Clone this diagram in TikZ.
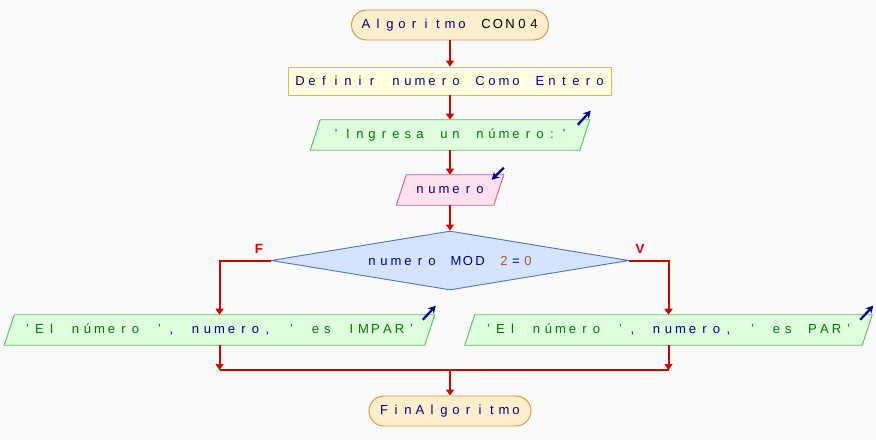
\documentclass[tikz,border=0pt]{standalone}
\usepackage{fontspec}
\setmainfont{Liberation Sans}
\usetikzlibrary{arrows.meta,shapes.geometric,calc,backgrounds}
\ExplSyntaxOn
\NewDocumentCommand\mono{m}{\tl_map_inline:nn {#1} {\makebox[9pt]{##1}}}
\ExplSyntaxOff
\definecolor{bgc}{RGB}{250,250,250}
\definecolor{navy}{RGB}{0,0,128}
\definecolor{strc}{RGB}{0,120,0}
\definecolor{numc}{RGB}{170,85,40}
\definecolor{flowc}{RGB}{204,0,0}
\definecolor{termfill}{RGB}{255,238,204}
\definecolor{termdraw}{RGB}{204,150,70}
\definecolor{deffill}{RGB}{255,255,221}
\definecolor{defdraw}{RGB}{200,200,70}
\definecolor{outfill}{RGB}{221,255,221}
\definecolor{outdraw}{RGB}{100,185,100}
\definecolor{infill}{RGB}{255,224,240}
\definecolor{indraw}{RGB}{200,100,150}
\definecolor{diafill}{RGB}{212,228,255}
\definecolor{diadraw}{RGB}{85,115,200}
\tikzset{
  txt/.style={font=\fontsize{9.8}{11}\selectfont, text=navy},
  term/.style={txt, rectangle, rounded corners=11.25pt, fill=termfill, draw=termdraw, line width=0.7pt, minimum height=22.5pt, inner sep=0pt},
  defbox/.style={txt, rectangle, fill=deffill, draw=defdraw, line width=0.7pt, minimum height=21pt, inner sep=0pt},
  iobox/.style={txt, rectangle, draw=none, minimum height=22.5pt, inner sep=0pt},
  outshape/.style={fill=outfill, draw=outdraw, line width=0.7pt},
  inshape/.style={fill=infill, draw=indraw, line width=0.7pt},
  dec/.style={txt, diamond, aspect=6.07, fill=diafill, draw=diadraw, line width=0.7pt, inner sep=0pt, minimum width=268.5pt, minimum height=44.25pt},
  flow/.style={draw=flowc, line width=1.5pt, -{Triangle[width=6pt,length=4.5pt]}},
  flowline/.style={draw=flowc, line width=1.5pt},
  icon/.style={draw=navy, line width=1.7pt, -{Stealth[length=5.5pt,width=6pt]}},
  branch/.style={font=\fontsize{10}{12}\selectfont\bfseries, text=flowc, inner sep=0pt}
}
\begin{document}
\begin{tikzpicture}[x=0.75pt,y=-0.75pt]
\useasboundingbox (0,0) rectangle (876,440);
% nodes
\node[term] (start) at (450,25) [minimum width=147.75pt] {\mono{Algoritmo~}\textcolor{black}{\mono{CON04}}};
\node[defbox] (def) at (450,81) [minimum width=242.25pt] {\mono{Definir~numero~Como~Entero}};
\node[iobox] (in1) at (450,135) [minimum width=201.75pt] {\textcolor{strc}{\mono{'Ingresa~un~número:'}}};
\node[iobox] (rd) at (450,190) [minimum width=72.75pt] {\mono{numero}};
\node[dec] (dia) at (450,260.5) {\mono{numero~MOD~}\textcolor{numc}{\mono{2}}\mono{=}\textcolor{numc}{\mono{0}}};
\node[iobox] (o1) at (219.5,330) [minimum width=315pt] {\textcolor{strc}{\mono{'El~número~'}}\mono{,~numero,~}\textcolor{strc}{\mono{'~es~IMPAR'}}};
\node[iobox] (o2) at (668.5,330) [minimum width=297.75pt] {\textcolor{strc}{\mono{'El~número~'}}\mono{,~numero,~}\textcolor{strc}{\mono{'~es~PAR'}}};
\node[term] (fin) at (450,411) [minimum width=121.5pt] {\mono{FinAlgoritmo}};
\node[branch] (lblF) at (259,249) {F};
\node[branch] (lblV) at (640,249) {V};
% background and parallelograms
\begin{pgfonlayer}{background}
\fill[bgc] (0,0) rectangle (876,440);
\foreach \n in {in1,o1,o2}{
  \path[outshape] ($(\n.south west)+(-5,0)$) -- ($(\n.south east)+(-5,0)$) -- ($(\n.north east)+(5,0)$) -- ($(\n.north west)+(5,0)$) -- cycle;
}
\path[inshape] ($(rd.south west)+(-5,0)$) -- ($(rd.south east)+(-5,0)$) -- ($(rd.north east)+(5,0)$) -- ($(rd.north west)+(5,0)$) -- cycle;
\end{pgfonlayer}
% icons
\foreach \n in {in1,o1,o2}{
  \draw[icon] ($(\n.north east)+(5,0)+(-12,5)$) -- ++(13,-14);
}
\draw[icon] ($(rd.north east)+(5,0)+(0,-7)$) -- ++(-12,12);
% connectors
\coordinate (jm) at (450,370);
\coordinate (jl) at (o1.south |- jm);
\coordinate (jr) at (o2.south |- jm);
\draw[flow] (start) -- (def);
\draw[flow] (def) -- (in1);
\draw[flow] (in1) -- (rd);
\draw[flow] (rd) -- (dia);
\draw[flow] (dia.west) -| (o1.north);
\draw[flow] (dia.east) -| (o2.north);
\draw[flow] (o1) -- (jl);
\draw[flow] (o2) -- (jr);
\draw[flowline] (jl) -- (jr);
\draw[flow] (jm) -- (fin);
\end{tikzpicture}
\end{document}
